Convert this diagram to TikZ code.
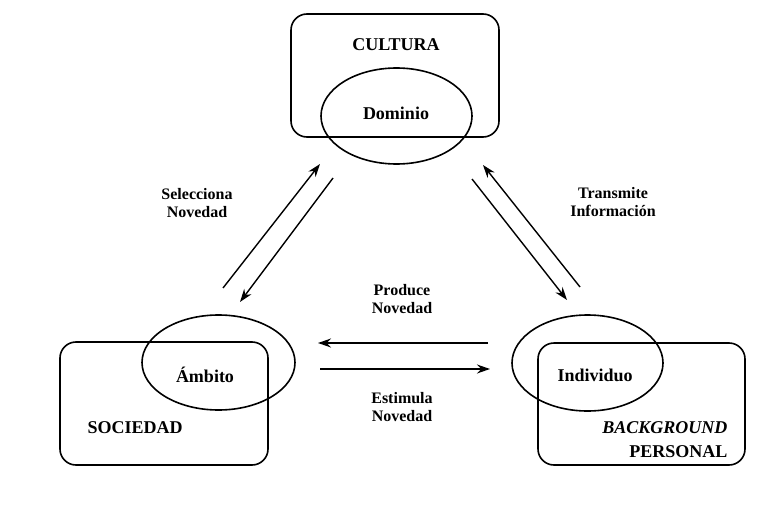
\documentclass[tikz,border=0pt]{standalone}
\usepackage{fontspec}
\setmainfont{Liberation Serif}
\usetikzlibrary{arrows.meta,shapes.geometric}
\begin{document}
\begin{tikzpicture}[x=1pt,y=-1pt,
  frame/.style={draw, line width=1.6pt, rounded corners=16pt, inner sep=0pt},
  oval/.style={draw, ellipse, line width=1.6pt, inner sep=0pt},
  big/.style={font=\fontsize{18}{20}\selectfont\bfseries},
  small/.style={font=\fontsize{16}{18}\selectfont\bfseries, align=center},
  flow/.style={line width=1.4pt, -{Stealth[length=13pt,width=9pt]}}]
\useasboundingbox (0,0) rectangle (765,516);

% three areas: culture, society, person
\node[frame, minimum width=208pt, minimum height=123pt] (cult) at (395,75.5) {};
\node[frame, minimum width=208pt, minimum height=123pt] (soc) at (164,403.5) {};
\node[frame, minimum width=207pt, minimum height=122pt] (pers) at (641.5,404) {};

% overlapping ovals
\node[oval, minimum width=151pt, minimum height=96pt] (dom) at (396.5,116) {};
\node[oval, minimum width=153pt, minimum height=95pt] (amb) at (218.5,362.5) {};
\node[oval, minimum width=151pt, minimum height=96pt] (ind) at (587.5,363) {};

% texts
\node[big] (tcult) at (396,45) {CULTURA};
\node[big] (tdom) at (396,113) {Dominio};
\node[big] (tamb) at (205,375) {Ámbito};
\node[big, anchor=west] (tsoc) at (84,428) {SOCIEDAD};
\node[big, anchor=west] (tind) at (554,375) {Individuo};
\node[big, anchor=east] (tbg) at (731,428) {\itshape BACKGROUND};
\node[big, anchor=east] (tper) at (731,452) {PERSONAL};

% arrow end points
\coordinate (a1s) at (223,288);  \coordinate (a1e) at (320,164);
\coordinate (a2s) at (333,178);  \coordinate (a2e) at (240,302);
\coordinate (b1s) at (472,179);  \coordinate (b1e) at (567,300);
\coordinate (b2s) at (580,287);  \coordinate (b2e) at (483,165);
\coordinate (c1s) at (488,343);  \coordinate (c1e) at (318,343);
\coordinate (c2s) at (320,369);  \coordinate (c2e) at (490,369);

\draw[flow] (a1s) -- (a1e);
\draw[flow] (a2s) -- (a2e);
\draw[flow] (b1s) -- (b1e);
\draw[flow] (b2s) -- (b2e);
\draw[flow] (c1s) -- (c1e);
\draw[flow] (c2s) -- (c2e);

% arrow labels
\node[small] (lsel) at (197,203) {Selecciona\\Novedad};
\node[small] (ltra) at (613,202) {Transmite\\Información};
\node[small] (lpro) at (402,299) {Produce\\Novedad};
\node[small] (lest) at (402,407) {Estimula\\Novedad};
\end{tikzpicture}
\end{document}
